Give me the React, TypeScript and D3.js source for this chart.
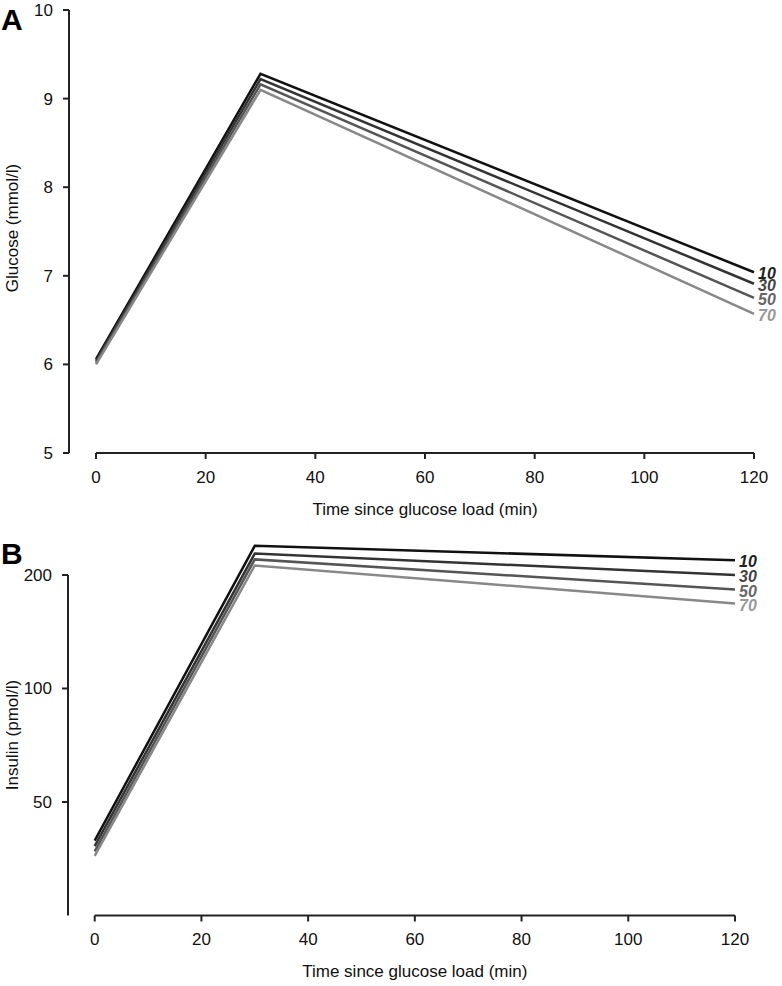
import React from "react";
import * as d3 from "d3";

const times = [0, 30, 120];
const ageLabels = ["10", "30", "50", "70"];
const glucose10 = [6.06, 9.28, 7.04];
const glucose30 = [6.04, 9.22, 6.91];
const glucose50 = [6.02, 9.16, 6.75];
const glucose70 = [6.0, 9.1, 6.57];
const insulin10 = [39.5, 239, 219];
const insulin30 = [38.2, 228, 200];
const insulin50 = [37, 220, 183];
const insulin70 = [36, 212, 168];
const glucoseTicks = [5, 6, 7, 8, 9, 10];
const insulinTicks = [50, 100, 200];
const timeTicks = [0, 20, 40, 60, 80, 100, 120];

const lineColors = ["#111111", "#333333", "#555555", "#888888"];
const labelColors = ["#222222", "#444444", "#666666", "#999999"];
const FONT = "Liberation Sans, Arial, Helvetica, sans-serif";

type PanelProps = {
  letter: string;
  letterY: number;
  series: number[][];
  yScale: any;
  yTicks: number[];
  yTop: number;
  yBottom: number;
  yAxisX: number;
  xScale: any;
  yLabel: string;
  yLabelY: number;
};

function Panel({ letter, letterY, series, yScale, yTicks, yTop, yBottom, yAxisX, xScale, yLabel, yLabelY }: PanelProps) {
  const line = d3
    .line<[number, number]>()
    .x((d) => xScale(d[0]))
    .y((d) => yScale(d[1]));
  const [x0, x1] = xScale.range();
  return (
    <g>
      <text x={1} y={letterY} fontFamily={FONT} fontWeight="bold" fontSize={30} fill="#000">
        {letter}
      </text>
      {/* y axis */}
      <line x1={yAxisX} x2={yAxisX} y1={yTop} y2={yBottom} stroke="#222" strokeWidth={2} />
      {yTicks.map((t) => (
        <g key={t}>
          <line x1={yAxisX - 6} x2={yAxisX} y1={yScale(t)} y2={yScale(t)} stroke="#222" strokeWidth={2} />
          <text
            x={yAxisX - 16}
            y={yScale(t)}
            dy="0.35em"
            textAnchor="end"
            fontFamily={FONT}
            fontSize={17}
            fill="#111"
          >
            {t}
          </text>
        </g>
      ))}
      <text
        transform={`translate(18,${yLabelY}) rotate(-90)`}
        textAnchor="middle"
        fontFamily={FONT}
        fontSize={17}
        fill="#111"
      >
        {yLabel}
      </text>
      {/* x axis */}
      <line x1={x0} x2={x1} y1={yBottom} y2={yBottom} stroke="#222" strokeWidth={2} />
      {timeTicks.map((t) => (
        <g key={t}>
          <line x1={xScale(t)} x2={xScale(t)} y1={yBottom} y2={yBottom + 6} stroke="#222" strokeWidth={2} />
          <text
            x={xScale(t)}
            y={yBottom + 24}
            dy="0.35em"
            textAnchor="middle"
            fontFamily={FONT}
            fontSize={17}
            fill="#111"
          >
            {t}
          </text>
        </g>
      ))}
      <text
        x={(x0 + x1) / 2}
        y={yBottom + 56}
        dy="0.35em"
        textAnchor="middle"
        fontFamily={FONT}
        fontSize={17}
        fill="#111"
      >
        Time since glucose load (min)
      </text>
      {/* lines */}
      {series.map((vals, i) => (
        <path
          key={i}
          d={line(times.map((t, j) => [t, vals[j]] as [number, number])) || ""}
          fill="none"
          stroke={lineColors[i]}
          strokeWidth={2.5}
          strokeLinejoin="miter"
        />
      ))}
      {series.map((vals, i) => (
        <text
          key={"l" + i}
          x={xScale(times[times.length - 1]) + 4}
          y={yScale(vals[vals.length - 1]) + 7}
          fontFamily={FONT}
          fontWeight="bold"
          fontStyle="italic"
          fontSize={16}
          fill={labelColors[i]}
        >
          {ageLabels[i]}
        </text>
      ))}
    </g>
  );
}

export default function App() {
  const xA = d3.scaleLinear().domain([0, 120]).range([96, 754]);
  const yA = d3.scaleLinear().domain([5, 10]).range([453, 10]);
  const xB = d3.scaleLinear().domain([0, 120]).range([94.7, 735]);
  const yB = d3.scaleLog().domain([50, 200]).range([802, 575]);
  const yBBottom = yB(25);
  return (
    <svg
      width={782}
      height={986}
      style={{ position: "absolute", left: 0, top: 0, background: "#fff" }}
    >
      <rect width={782} height={986} fill="#fff" />
      <Panel
        letter="A"
        letterY={30}
        series={[glucose10, glucose30, glucose50, glucose70]}
        yScale={yA}
        yTicks={glucoseTicks}
        yTop={yA(10)}
        yBottom={yA(5)}
        yAxisX={69}
        xScale={xA}
        yLabel="Glucose (mmol/l)"
        yLabelY={228}
      />
      <Panel
        letter="B"
        letterY={564}
        series={[insulin10, insulin30, insulin50, insulin70]}
        yScale={yB}
        yTicks={insulinTicks}
        yTop={yB(200)}
        yBottom={yBBottom}
        yAxisX={68}
        xScale={xB}
        yLabel="Insulin (pmol/l)"
        yLabelY={735}
      />
    </svg>
  );
}
